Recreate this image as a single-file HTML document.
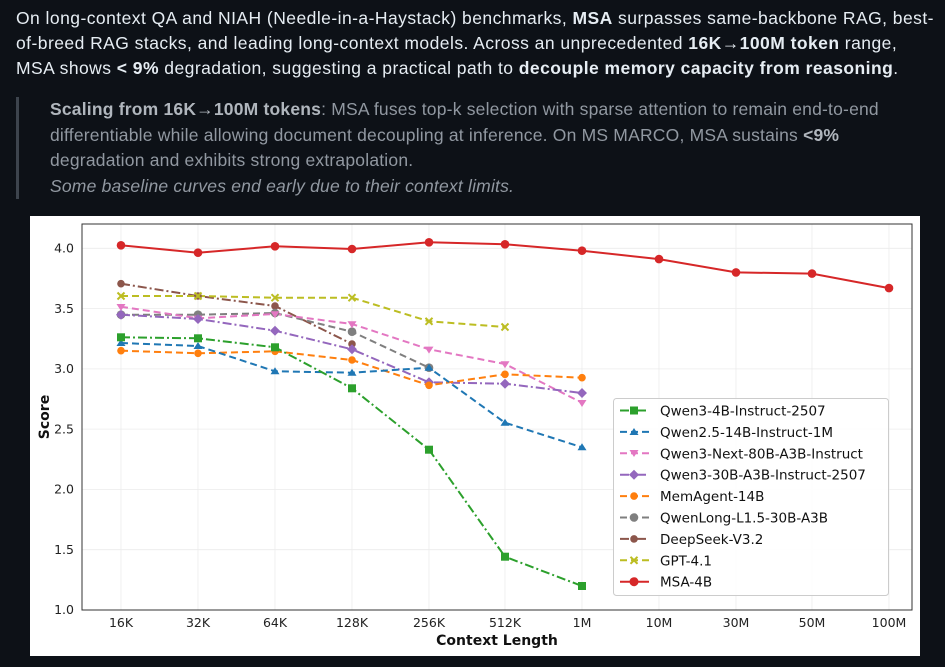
<!DOCTYPE html>
<html><head><meta charset="utf-8"><style>
body{margin:0;width:945px;height:667px;background:#0d1117;overflow:hidden;font-family:"Liberation Sans",sans-serif}
.p{position:absolute;left:16px;top:6px;width:940px;color:#e6edf3;font-size:17.5px;line-height:25px;letter-spacing:0.45px;white-space:nowrap}
.q{position:absolute;left:16px;top:97px;width:900px;border-left:3px solid #3d444d;padding-left:31px;color:#9198a1;font-size:17.5px;line-height:25.5px;letter-spacing:0.2px;white-space:nowrap}
b{font-weight:bold}
.q b{color:#b0b6bd}
svg{position:absolute;left:0;top:0}
</style></head><body>
<div class="p">On long-context QA and NIAH (Needle-in-a-Haystack) benchmarks, <b>MSA</b> surpasses same-backbone RAG, best-<br>of-breed RAG stacks, and leading long-context models. Across an unprecedented <b>16K→100M token</b> range,<br>MSA shows <b>&lt; 9%</b> degradation, suggesting a practical path to <b>decouple memory capacity from reasoning</b>.</div>
<div class="q"><b>Scaling from 16K→100M tokens</b>: MSA fuses top-k selection with sparse attention to remain end-to-end<br>differentiable while allowing document decoupling at inference. On MS MARCO, MSA sustains <b>&lt;9%</b><br>degradation and exhibits strong extrapolation.<br><i>Some baseline curves end early due to their context limits.</i></div>
<svg width="945" height="667" xmlns="http://www.w3.org/2000/svg" font-family="DejaVu Sans, sans-serif">
<rect x="30" y="216" width="890" height="440" fill="#fff"/>
<g stroke="#ececec" stroke-width="0.8">
<line x1="82" x2="912" y1="248.3" y2="248.3"/><line x1="82" x2="912" y1="308.6" y2="308.6"/><line x1="82" x2="912" y1="368.9" y2="368.9"/><line x1="82" x2="912" y1="429.1" y2="429.1"/><line x1="82" x2="912" y1="489.4" y2="489.4"/><line x1="82" x2="912" y1="549.7" y2="549.7"/>
<line y1="224" y2="610" x1="121" x2="121"/><line y1="224" y2="610" x1="198" x2="198"/><line y1="224" y2="610" x1="275" x2="275"/><line y1="224" y2="610" x1="352" x2="352"/><line y1="224" y2="610" x1="429" x2="429"/><line y1="224" y2="610" x1="505" x2="505"/><line y1="224" y2="610" x1="582" x2="582"/><line y1="224" y2="610" x1="659" x2="659"/><line y1="224" y2="610" x1="736" x2="736"/><line y1="224" y2="610" x1="812" x2="812"/><line y1="224" y2="610" x1="889" x2="889"/>
</g>
<rect x="82" y="224" width="830" height="386" fill="none" stroke="#333" stroke-width="1"/>
<g font-size="12.5" fill="#222" text-anchor="end">
<text x="74" y="252.5">4.0</text><text x="74" y="313">3.5</text><text x="74" y="373">3.0</text><text x="74" y="433.5">2.5</text><text x="74" y="493.5">2.0</text><text x="74" y="554">1.5</text><text x="74" y="614">1.0</text>
</g>
<g font-size="12.5" fill="#222" text-anchor="middle">
<text x="121" y="627">16K</text><text x="198" y="627">32K</text><text x="275" y="627">64K</text><text x="352" y="627">128K</text><text x="429" y="627">256K</text><text x="505" y="627">512K</text><text x="582" y="627">1M</text><text x="659" y="627">10M</text><text x="736" y="627">30M</text><text x="812" y="627">50M</text><text x="889" y="627">100M</text>
</g>
<text x="497" y="645" font-size="14" font-weight="bold" text-anchor="middle" fill="#111">Context Length</text>
<text transform="translate(49,417) rotate(-90)" font-size="14" font-weight="bold" text-anchor="middle" fill="#111">Score</text>
<g fill="none" stroke-width="2">
<polyline stroke="#8c564b" stroke-dasharray="9,3,2,3" points="121,283.7 198,296 275,306 352,344"/>
<polyline stroke="#bcbd22" stroke-dasharray="7,4" points="121,296 198,296 275,297.7 352,297.7 429,321.3 505,327"/>
<polyline stroke="#7f7f7f" stroke-dasharray="7,4" points="121,314.7 198,314.7 275,313 352,331.7 429,367.7"/>
<polyline stroke="#e377c2" stroke-dasharray="7,4" points="121,306.7 198,318.3 275,314 352,324 429,349.3 505,364 582,402.7"/>
<polyline stroke="#9467bd" stroke-dasharray="9,3,2,3" points="121,314.7 198,319 275,330.7 352,349.3 429,382.3 505,383.7 582,393"/>
<polyline stroke="#ff7f0e" stroke-dasharray="7,4" points="121,350.7 198,353.3 275,351.3 352,360 429,385.3 505,374.3 582,377.7"/>
<polyline stroke="#1f77b4" stroke-dasharray="7,4" points="121,343 198,346 275,371.3 352,372.7 429,367.7 505,422.7 582,447.3"/>
<polyline stroke="#2ca02c" stroke-dasharray="9,3,2,3" points="121,337.3 198,338.3 275,347.3 352,388.3 429,449.7 505,556.7 582,586"/>
<polyline stroke="#d62728" points="121,245.3 198,252.7 275,246.3 352,249 429,242.3 505,244.3 582,250.7 659,259.1 736,272.4 812,273.6 889,288.1"/>
</g>
<g fill="#8c564b"><circle cx="121" cy="283.7" r="3.8"/><circle cx="198" cy="296" r="3.8"/><circle cx="275" cy="306" r="3.8"/><circle cx="352" cy="344" r="3.8"/></g>
<g stroke="#bcbd22" stroke-width="2"><path d="M117.5,292.5l7,7M124.5,292.5l-7,7M194.5,292.5l7,7M201.5,292.5l-7,7M271.5,294.2l7,7M278.5,294.2l-7,7M348.5,294.2l7,7M355.5,294.2l-7,7M425.5,317.8l7,7M432.5,317.8l-7,7M501.5,323.5l7,7M508.5,323.5l-7,7"/></g>
<g fill="#7f7f7f"><circle cx="121" cy="314.7" r="4.3"/><circle cx="198" cy="314.7" r="4.3"/><circle cx="275" cy="313" r="4.3"/><circle cx="352" cy="331.7" r="4.3"/><circle cx="429" cy="367.7" r="4.3"/></g>
<g fill="#e377c2"><path d="M116.5,304h9l-4.5,7z M193.5,315.6h9l-4.5,7z M270.5,311.3h9l-4.5,7z M347.5,321.3h9l-4.5,7z M424.5,346.6h9l-4.5,7z M500.5,361.3h9l-4.5,7z M577.5,400h9l-4.5,7z"/></g>
<g fill="#9467bd"><path d="M121,309.7l5,5-5,5-5-5z M198,314l5,5-5,5-5-5z M275,325.7l5,5-5,5-5-5z M352,344.3l5,5-5,5-5-5z M429,377.3l5,5-5,5-5-5z M505,378.7l5,5-5,5-5-5z M582,388l5,5-5,5-5-5z"/></g>
<g fill="#ff7f0e"><circle cx="121" cy="350.7" r="3.8"/><circle cx="198" cy="353.3" r="3.8"/><circle cx="275" cy="351.3" r="3.8"/><circle cx="352" cy="360" r="3.8"/><circle cx="429" cy="385.3" r="3.8"/><circle cx="505" cy="374.3" r="3.8"/><circle cx="582" cy="377.7" r="3.8"/></g>
<g fill="#1f77b4"><path d="M116.5,346h9l-4.5,-7z M193.5,349h9l-4.5,-7z M270.5,374.3h9l-4.5,-7z M347.5,375.7h9l-4.5,-7z M424.5,370.7h9l-4.5,-7z M500.5,425.7h9l-4.5,-7z M577.5,450.3h9l-4.5,-7z"/></g>
<g fill="#2ca02c"><rect x="117" y="333.3" width="8" height="8"/><rect x="194" y="334.3" width="8" height="8"/><rect x="271" y="343.3" width="8" height="8"/><rect x="348" y="384.3" width="8" height="8"/><rect x="425" y="445.7" width="8" height="8"/><rect x="501" y="552.7" width="8" height="8"/><rect x="578" y="582" width="8" height="8"/></g>
<g fill="#d62728"><circle cx="121" cy="245.3" r="4.3"/><circle cx="198" cy="252.7" r="4.3"/><circle cx="275" cy="246.3" r="4.3"/><circle cx="352" cy="249" r="4.3"/><circle cx="429" cy="242.3" r="4.3"/><circle cx="505" cy="244.3" r="4.3"/><circle cx="582" cy="250.7" r="4.3"/><circle cx="659" cy="259.1" r="4.3"/><circle cx="736" cy="272.4" r="4.3"/><circle cx="812" cy="273.6" r="4.3"/><circle cx="889" cy="288.1" r="4.3"/></g>
<rect x="613.5" y="398.5" width="275" height="197" rx="3" fill="#fff" fill-opacity="0.9" stroke="#ccc"/>
<g stroke-width="2" fill="none">
<line x1="620" x2="649" y1="410.5" y2="410.5" stroke="#2ca02c" stroke-dasharray="9,3,2,3"/>
<line x1="620" x2="649" y1="431.9" y2="431.9" stroke="#1f77b4" stroke-dasharray="7,4"/>
<line x1="620" x2="649" y1="453.3" y2="453.3" stroke="#e377c2" stroke-dasharray="7,4"/>
<line x1="620" x2="649" y1="474.7" y2="474.7" stroke="#9467bd" stroke-dasharray="9,3,2,3"/>
<line x1="620" x2="649" y1="496.1" y2="496.1" stroke="#ff7f0e" stroke-dasharray="7,4"/>
<line x1="620" x2="649" y1="517.5" y2="517.5" stroke="#7f7f7f" stroke-dasharray="7,4"/>
<line x1="620" x2="649" y1="538.9" y2="538.9" stroke="#8c564b" stroke-dasharray="9,3,2,3"/>
<line x1="620" x2="649" y1="560.3" y2="560.3" stroke="#bcbd22" stroke-dasharray="7,4"/>
<line x1="620" x2="649" y1="581.7" y2="581.7" stroke="#d62728"/>
</g>
<rect x="630" y="406.5" width="8" height="8" fill="#2ca02c"/>
<path d="M629.5,435h9l-4.5,-7z" fill="#1f77b4"/>
<path d="M629.5,450h9l-4.5,7z" fill="#e377c2"/>
<path d="M634,469.7l5,5-5,5-5-5z" fill="#9467bd"/>
<circle cx="634" cy="496.1" r="3.8" fill="#ff7f0e"/>
<circle cx="634" cy="517.5" r="4.3" fill="#7f7f7f"/>
<circle cx="634" cy="538.9" r="3.8" fill="#8c564b"/>
<path d="M630.5,556.8l7,7M637.5,556.8l-7,7" stroke="#bcbd22" stroke-width="2"/>
<circle cx="634" cy="581.7" r="4.5" fill="#d62728"/>
<g font-size="13.5" fill="#111">
<text x="660" y="415.5">Qwen3-4B-Instruct-2507</text>
<text x="660" y="436.9">Qwen2.5-14B-Instruct-1M</text>
<text x="660" y="458.3">Qwen3-Next-80B-A3B-Instruct</text>
<text x="660" y="479.7">Qwen3-30B-A3B-Instruct-2507</text>
<text x="660" y="501.1">MemAgent-14B</text>
<text x="660" y="522.5">QwenLong-L1.5-30B-A3B</text>
<text x="660" y="543.9">DeepSeek-V3.2</text>
<text x="660" y="565.3">GPT-4.1</text>
<text x="660" y="586.7">MSA-4B</text>
</g>
</svg>
</body></html>
